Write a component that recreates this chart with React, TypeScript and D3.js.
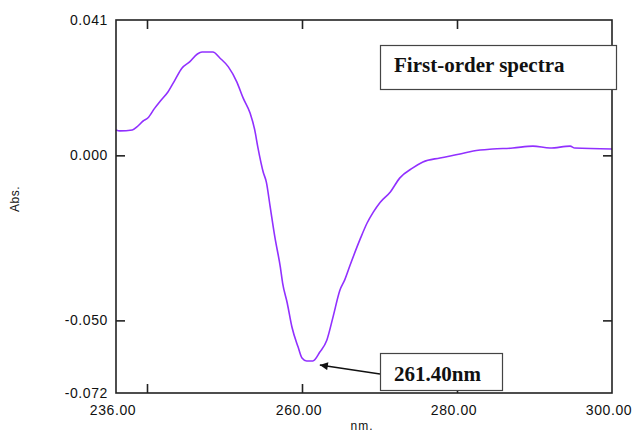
import { useEffect, useRef } from "react";
import * as d3 from "d3";

// wavelength (nm) and first-derivative absorbance
const wavelength = [
  236.0, 236.5, 238.1, 238.7, 239.5, 240.1, 241.0, 241.7, 242.7, 243.6, 244.5,
  245.5, 246.5, 247.1, 248.5, 249.4, 250.5, 251.6, 252.4, 253.3, 253.9, 254.3,
  255.0, 255.4, 255.9, 256.5, 257.2, 257.5, 258.1, 258.7, 259.5, 260.0, 260.6,
  261.4, 262.3, 263.2, 264.0, 264.9, 265.5, 266.2, 267.5, 268.4, 269.2, 270.1,
  271.4, 272.6, 274.3, 275.6, 277.8, 280.4, 282.1, 284.6, 287.2, 289.8, 292.0,
  294.6, 295.2, 300.0,
];
const absorbance = [
  0.0077, 0.0074, 0.0077, 0.0086, 0.0104, 0.0113, 0.0143, 0.0164, 0.0192,
  0.0228, 0.0264, 0.0283, 0.0307, 0.0313, 0.0313, 0.0295, 0.0268, 0.0222,
  0.0174, 0.0128, 0.0077, 0.0025, -0.0051, -0.0081, -0.0157, -0.0248, -0.0338,
  -0.0387, -0.0448, -0.052, -0.0581, -0.0614, -0.0623, -0.0623, -0.0596,
  -0.056, -0.049, -0.0408, -0.0378, -0.0333, -0.0254, -0.0205, -0.0172,
  -0.0142, -0.0111, -0.0069, -0.0038, -0.002, -0.0008, 0.0004, 0.0013, 0.0019,
  0.0022, 0.0028, 0.0022, 0.0028, 0.0022, 0.0019,
];

const xLabels = [236, 260, 280, 300];
const xTicks = [240, 260, 280];
const yLabels = [0.041, 0.0, -0.05, -0.072];
const yTicks = [0.0, -0.05];
const peakLabel = "261.40nm";
const peakNm = 261.4;
const peakAbs = -0.0623;

function App() {
  const ref = useRef(null);

  useEffect(() => {
    document.body.style.margin = "0";
    const margin = { top: 20, right: 21, bottom: 40, left: 116 };
    const W = 633;
    const H = 433;
    const width = W - margin.left - margin.right;
    const height = H - margin.top - margin.bottom;

    const root = d3.select(ref.current).attr("width", W).attr("height", H);
    const svg = root
      .append("g")
      .attr("transform", `translate(${margin.left}, ${margin.top})`);

    const x = d3.scaleLinear().domain([236, 300]).range([0, width]);
    const y = d3.scaleLinear().domain([-0.072, 0.041]).range([height, 0]);

    const axisFont = "'Liberation Sans', Arial, sans-serif";
    const axisColor = "#222";

    // Trace
    const points = wavelength.map((w, i) => [w, absorbance[i]]);
    svg
      .append("path")
      .datum(points)
      .attr("fill", "none")
      .attr("stroke", "#9130ff")
      .attr("stroke-width", 1.6)
      .attr("stroke-linejoin", "round")
      .attr(
        "d",
        d3
          .line()
          .curve(d3.curveMonotoneX)
          .x((d) => x(d[0]))
          .y((d) => y(d[1]))
      );

    // Frame
    svg
      .append("rect")
      .attr("width", width)
      .attr("height", height)
      .attr("fill", "none")
      .attr("stroke", axisColor)
      .attr("stroke-width", 1.6);

    // Inward ticks
    const tickLen = 9;
    const tickStyle = (g) => {
      g.select(".domain").remove();
      g.selectAll("line").attr("stroke", axisColor).attr("stroke-width", 1.6);
      g.selectAll("text").remove();
    };
    svg
      .append("g")
      .attr("transform", `translate(0, ${height})`)
      .call(d3.axisBottom(x).tickValues(xTicks).tickSize(-tickLen))
      .call(tickStyle);
    svg
      .append("g")
      .call(d3.axisTop(x).tickValues(xTicks).tickSize(-tickLen))
      .call(tickStyle);
    svg
      .append("g")
      .call(d3.axisLeft(y).tickValues(yTicks).tickSize(-tickLen))
      .call(tickStyle);
    svg
      .append("g")
      .attr("transform", `translate(${width}, 0)`)
      .call(d3.axisRight(y).tickValues(yTicks).tickSize(-tickLen))
      .call(tickStyle);

    // Tick labels
    svg
      .append("g")
      .selectAll("text")
      .data(xLabels)
      .join("text")
      .attr("x", (d) => x(d) - 3)
      .attr("y", height + 22)
      .attr("text-anchor", "middle")
      .attr("font-family", axisFont)
      .attr("font-size", 14)
      .attr("letter-spacing", 0.6)
      .attr("fill", "#111")
      .text((d) => d.toFixed(2));

    svg
      .append("g")
      .selectAll("text")
      .data(yLabels)
      .join("text")
      .attr("x", -8)
      .attr("y", (d) => y(d))
      .attr("dy", "0.36em")
      .attr("text-anchor", "end")
      .attr("font-family", axisFont)
      .attr("font-size", 14)
      .attr("letter-spacing", 0.6)
      .attr("fill", "#111")
      .text((d) => d.toFixed(3));

    // Axis titles
    root
      .append("text")
      .attr("transform", "translate(19, 199) rotate(-90)")
      .attr("text-anchor", "middle")
      .attr("font-family", axisFont)
      .attr("font-size", 12)
      .attr("letter-spacing", 0.5)
      .attr("fill", "#111")
      .text("Abs.");

    root
      .append("text")
      .attr("x", 362)
      .attr("y", 430)
      .attr("text-anchor", "middle")
      .attr("font-family", axisFont)
      .attr("font-size", 12)
      .attr("letter-spacing", 1)
      .attr("fill", "#111")
      .text("nm.");

    // Title box
    const serif = "'Liberation Serif', 'Times New Roman', serif";
    root
      .append("rect")
      .attr("x", 380.5)
      .attr("y", 45.5)
      .attr("width", 236)
      .attr("height", 44)
      .attr("fill", "white")
      .attr("stroke", "#444")
      .attr("stroke-width", 1.2);
    root
      .append("text")
      .attr("x", 394)
      .attr("y", 72)
      .attr("font-family", serif)
      .attr("font-weight", "bold")
      .attr("font-size", 21)
      .attr("fill", "#111")
      .text("First-order spectra");

    // Peak annotation
    const defs = root.append("defs");
    defs
      .append("marker")
      .attr("id", "arrow")
      .attr("viewBox", "0 0 10 10")
      .attr("refX", 10)
      .attr("refY", 5)
      .attr("markerWidth", 10)
      .attr("markerHeight", 8)
      .attr("markerUnits", "userSpaceOnUse")
      .attr("orient", "auto")
      .append("path")
      .attr("d", "M0,0 L10,5 L0,10 Z")
      .attr("fill", "#111");

    const tipX = margin.left + x(peakNm) + 7;
    const tipY = margin.top + y(peakAbs) + 4;
    root
      .append("line")
      .attr("x1", 380)
      .attr("y1", 374)
      .attr("x2", tipX)
      .attr("y2", tipY)
      .attr("stroke", "#111")
      .attr("stroke-width", 1.4)
      .attr("marker-end", "url(#arrow)");

    root
      .append("rect")
      .attr("x", 380.5)
      .attr("y", 353.5)
      .attr("width", 122)
      .attr("height", 37)
      .attr("fill", "white")
      .attr("stroke", "#444")
      .attr("stroke-width", 1.2);
    root
      .append("text")
      .attr("x", 394)
      .attr("y", 381)
      .attr("font-family", serif)
      .attr("font-weight", "bold")
      .attr("font-size", 21)
      .attr("fill", "#111")
      .text(peakLabel);

    return () => {
      d3.select(ref.current).selectAll("*").remove();
    };
  }, []);

  return (
    <div style={{ background: "white" }}>
      <svg ref={ref} style={{ display: "block" }} />
    </div>
  );
}

export default App;
